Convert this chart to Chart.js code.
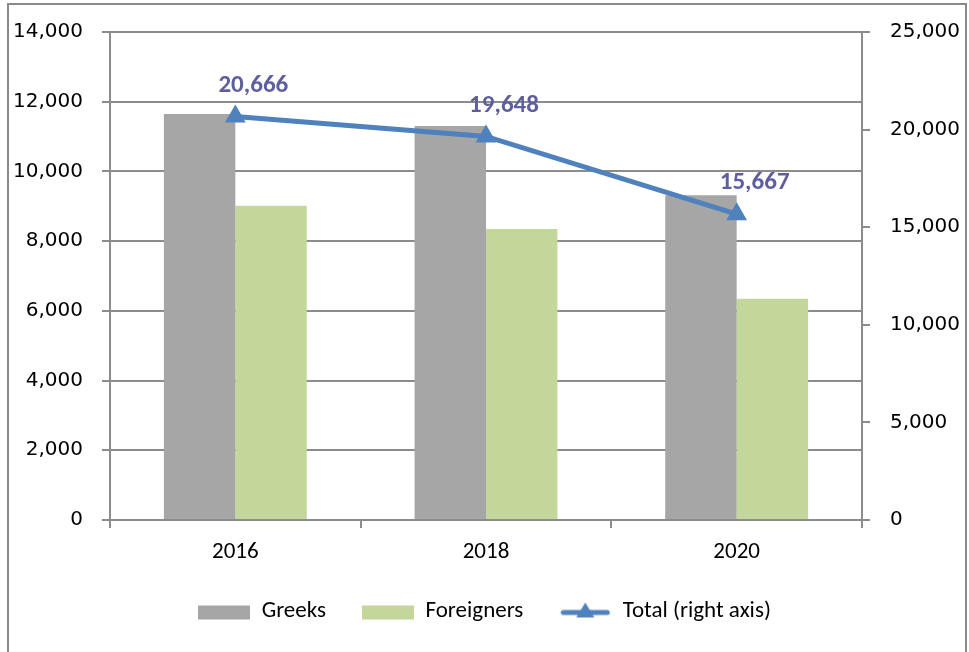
<!DOCTYPE html>
<html>
<head>
<meta charset="utf-8">
<script src="https://cdn.jsdelivr.net/npm/chart.js@4.4.1/dist/chart.umd.min.js"></script>
<style>
  html, body { margin: 0; padding: 0; background: #fff; }
  #wrap { width: 969px; height: 652px; position: relative; }
</style>
</head>
<body>
<div id="wrap"><canvas id="mixedChart" width="969" height="652"></canvas></div>
<script>
// data
const years = ['2016', '2018', '2020'];
const greeks = [11650, 11300, 9320];
const foreigners = [9016, 8348, 6347];
const totals = [20666, 19648, 15667];

const narrowFont = "Carlito, 'Liberation Sans Narrow', 'Open Sans', sans-serif";
const axisColor = '#8c8c8c';

function legendIcon(kind, color) {
    var c = document.createElement('canvas');
    c.width = 52; c.height = 24;
    var g = c.getContext('2d');
    if (kind === 'box') {
        g.fillStyle = color;
        g.fillRect(0, 6, 52, 14);
    } else {
        g.strokeStyle = color;
        g.lineWidth = 5;
        g.lineCap = 'round';
        g.beginPath(); g.moveTo(4, 13); g.lineTo(48, 13); g.stroke();
        g.fillStyle = color;
        g.beginPath(); g.moveTo(26, 3); g.lineTo(35, 18); g.lineTo(17, 18); g.closePath(); g.fill();
    }
    return c;
}

// frame round the whole chart
const framePlugin = {
    id: 'frame',
    beforeDraw(chart) {
        var ctx = chart.ctx;
        ctx.save();
        ctx.strokeStyle = '#8a8a8a';
        ctx.lineWidth = 2;
        ctx.strokeRect(8, 4, 958, 700);
        ctx.restore();
    }
};

// value labels over the total line
const totalLabels = {
    id: 'totalLabels',
    afterDatasetsDraw(chart) {
        var ctx = chart.ctx;
        var meta = chart.getDatasetMeta(2);
        ctx.save();
        ctx.font = "bold 25px " + narrowFont;
        ctx.fillStyle = '#5f5f9f';
        ctx.textAlign = 'center';
        ctx.textBaseline = 'middle';
        meta.data.forEach(function (pt, i) {
            ctx.fillText(totals[i].toLocaleString('en-US'), pt.x + 18, pt.y - 31);
        });
        ctx.restore();
    }
};

const ctx = document.getElementById('mixedChart');
const mixedChart = new Chart(ctx, {
    data: {
        labels: years,
        datasets: [{
            type: 'bar',
            label: 'Greeks',
            data: greeks,
            backgroundColor: '#a6a6a6',
            yAxisID: 'y',
            order: 2
        }, {
            type: 'bar',
            label: 'Foreigners',
            data: foreigners,
            backgroundColor: '#c4d79b',
            yAxisID: 'y',
            order: 2
        }, {
            type: 'line',
            label: 'Total (right axis)',
            data: totals,
            borderColor: '#4f81bd',
            backgroundColor: '#4f81bd',
            borderWidth: 5,
            pointStyle: 'triangle',
            pointRadius: 12,
            pointBorderWidth: 0,
            yAxisID: 'y1',
            order: 1
        }]
    },
    options: {
        responsive: false,
        animation: false,
        datasets: {
            bar: { categoryPercentage: 0.57, barPercentage: 1.0 }
        },
        layout: { padding: { top: 30, bottom: 19, left: 0, right: 0 } },
        plugins: {
            tooltip: { enabled: false },
            legend: {
                position: 'bottom',
                labels: {
                    usePointStyle: true,
                    pointStyleWidth: 52,
                    padding: 36,
                    color: '#000',
                    font: { family: narrowFont, size: 23 },
                    generateLabels(chart) {
                        return chart.data.datasets.map(function (ds, i) {
                            return {
                                text: ds.label,
                                pointStyle: legendIcon(ds.type === 'line' ? 'line' : 'box', ds.backgroundColor),
                                fillStyle: ds.backgroundColor,
                                strokeStyle: ds.backgroundColor,
                                lineWidth: 0,
                                fontColor: '#000',
                                hidden: false,
                                datasetIndex: i
                            };
                        });
                    }
                }
            }
        },
        scales: {
            x: {
                offset: true,
                grid: {
                    offset: true,
                    drawOnChartArea: false,
                    drawTicks: true,
                    tickLength: 8,
                    color: axisColor,
                    lineWidth: 2
                },
                border: { color: axisColor, width: 2 },
                ticks: {
                    color: '#000',
                    padding: 10,
                    font: { family: narrowFont, size: 23 }
                },
                afterFit(scale) { scale.height = 44; }
            },
            y: {
                position: 'left',
                min: 0,
                max: 14000,
                ticks: {
                    stepSize: 2000,
                    color: '#000',
                    padding: 19,
                    font: { family: "'DejaVu Sans', sans-serif", size: 20 },
                    callback: function (v) { return v.toLocaleString('en-US'); }
                },
                grid: { color: axisColor, lineWidth: 2, tickLength: 8 },
                border: { color: axisColor, width: 2 },
                afterFit(scale) { scale.width = 110; }
            },
            y1: {
                position: 'right',
                min: 0,
                max: 25000,
                ticks: {
                    stepSize: 5000,
                    color: '#000',
                    padding: 20,
                    font: { family: "'DejaVu Sans', sans-serif", size: 20 },
                    callback: function (v) { return v.toLocaleString('en-US'); }
                },
                grid: { drawOnChartArea: false, color: axisColor, lineWidth: 2, tickLength: 8 },
                border: { color: axisColor, width: 2 },
                afterFit(scale) { scale.width = 107; }
            }
        }
    },
    plugins: [framePlugin, totalLabels]
});
</script>
</body>
</html>
